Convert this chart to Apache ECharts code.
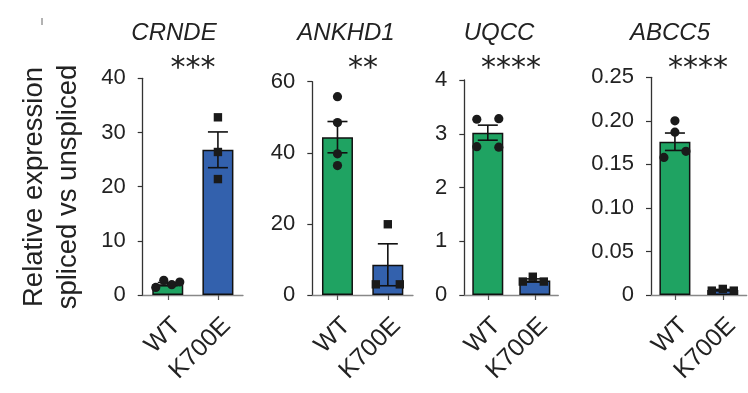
<!DOCTYPE html>
<html>
<head>
<meta charset="utf-8">
<script src="https://cdn.jsdelivr.net/npm/echarts@6/dist/echarts.min.js"></script>
<style>
html,body{margin:0;padding:0;background:#fff;}
#chart{width:748px;height:393px;}
</style>
</head>
<body>
<div id="chart"></div>
<script>
// ---------- data ----------
const categories = ['WT', 'K700E'];
const genes = ['CRNDE', 'ANKHD1', 'UQCC', 'ABCC5'];
const significance = ['***', '**', '****', '****'];
const yMax = [40, 60, 4, 0.25];
const yInterval = [10, 20, 1, 0.05];

const crndeMean = [2.0, 26.8];
const crndeSem = [0.3, 3.3];
const crndeWT = [1.4, 2.7, 1.9, 2.4];
const crndeK700E = [32.8, 26.4, 21.4];

const ankhd1Mean = [44.4, 8.5];
const ankhd1Sem = [4.4, 5.9];
const ankhd1WT = [55.8, 48.5, 39.7, 36.4];
const ankhd1K700E = [19.9, 3.0, 3.0];

const uqccMean = [3.02, 0.27];
const uqccSem = [0.14, 0.03];
const uqccWT = [3.27, 3.28, 2.76, 2.75];
const uqccK700E = [0.25, 0.34, 0.25];

const abcc5Mean = [0.176, 0.0057];
const abcc5Sem = [0.01, 0.0007];
const abcc5WT = [0.200, 0.187, 0.158, 0.165];
const abcc5K700E = [0.005, 0.007, 0.005];

// ---------- layout (pixels) ----------
const grids = [
  {left: 142.7, top: 78.3, width: 100.3, height: 216.7},
  {left: 312.3, top: 81.7, width: 100.7, height: 213.3},
  {left: 464.3, top: 80, width: 94, height: 215},
  {left: 651, top: 77.3, width: 95.7, height: 217.7}
];
// horizontal jitter of dots (px), per panel: [WT offsets, K700E offsets]
const jitter = [
  [[-12, -4, 4, 12], [0, 0, 0]],
  [[0, 0, 0, 0], [0, -12, 12]],
  [[-11, 11, -11, 11], [-12, -2, 9]],
  [[0, 0, -11, 11], [-11, 0, 11]]
];
const titlePos = [[174, 33], [346, 33], [499, 33], [670, 33]];
const starPos = [[193, 69], [363, 69], [511, 69], [698, 69]];

const means = [crndeMean, ankhd1Mean, uqccMean, abcc5Mean];
const sems = [crndeSem, ankhd1Sem, uqccSem, abcc5Sem];
const wtPts = [crndeWT, ankhd1WT, uqccWT, abcc5WT];
const kPts = [crndeK700E, ankhd1K700E, uqccK700E, abcc5K700E];

const GREEN = '#1fa362';
const BLUE = '#3361ad';
const FONT = "'Liberation Sans', Arial, sans-serif";
const TXT = '#222';

const chart = echarts.init(document.getElementById('chart'), null, {renderer: 'canvas'});

const option = {
  backgroundColor: '#fff',
  animation: false,
  grid: grids.map(g => Object.assign({containLabel: false}, g)),
  xAxis: grids.map((g, i) => ({
    type: 'category', gridIndex: i, data: categories, boundaryGap: true,
    axisLine: {show: true, lineStyle: {color: '#888', width: 1.3}},
    axisTick: {show: true, alignWithLabel: true, length: 5, lineStyle: {color: '#555', width: 1.2}},
    axisLabel: {rotate: 45, margin: 18, fontSize: 25, fontFamily: FONT, color: TXT, interval: 0,
      verticalAlign: 'top', padding: [0, 0, 0, 0]}
  })),
  yAxis: grids.map((g, i) => ({
    type: 'value', gridIndex: i, min: 0, max: yMax[i], interval: yInterval[i],
    axisLine: {show: true, lineStyle: {color: '#333', width: 1.3}},
    axisTick: {show: true, length: 5, lineStyle: {color: '#333', width: 1.2}},
    splitLine: {show: false},
    axisLabel: {
      margin: 17, fontSize: 22, fontFamily: FONT, color: TXT,
      formatter: v => (i === 3 ? (v === 0 ? '0' : v.toFixed(2)) : String(v))
    }
  })),
  series: [],
  graphic: []
};

for (let i = 0; i < 4; i++) {
  option.series.push({
    type: 'bar', xAxisIndex: i, yAxisIndex: i, barWidth: 31,
    data: means[i].map((v, k) => ({
      value: v,
      itemStyle: {color: k === 0 ? GREEN : BLUE, borderColor: '#111', borderWidth: 1.5}
    })),
    z: 2
  });
  // error bars
  option.series.push({
    type: 'custom', xAxisIndex: i, yAxisIndex: i, z: 3, clip: false,
    data: means[i].map((m, k) => [k, m - sems[i][k], m + sems[i][k]]),
    renderItem: (params, api) => {
      const lo = api.coord([api.value(0), api.value(1)]);
      const hi = api.coord([api.value(0), api.value(2)]);
      const hw = 10;
      const st = {stroke: '#111', lineWidth: 1.6};
      return {type: 'group', children: [
        {type: 'line', shape: {x1: lo[0], y1: lo[1], x2: hi[0], y2: hi[1]}, style: st},
        {type: 'line', shape: {x1: hi[0] - hw, y1: hi[1], x2: hi[0] + hw, y2: hi[1]}, style: st},
        {type: 'line', shape: {x1: lo[0] - hw, y1: lo[1], x2: lo[0] + hw, y2: lo[1]}, style: st}
      ]};
    }
  });
  // individual points
  const pts = [];
  wtPts[i].forEach((v, j) => pts.push([0, v, jitter[i][0][j]]));
  kPts[i].forEach((v, j) => pts.push([1, v, jitter[i][1][j]]));
  option.series.push({
    type: 'custom', xAxisIndex: i, yAxisIndex: i, z: 4, clip: false,
    data: pts,
    renderItem: (params, api) => {
      const c = api.coord([api.value(0), api.value(1)]);
      const x = c[0] + api.value(2), y = c[1];
      if (api.value(0) === 0) {
        return {type: 'circle', shape: {cx: x, cy: y, r: 4.6}, style: {fill: '#1a1a1a'}};
      }
      return {type: 'rect', shape: {x: x - 4.2, y: y - 4.2, width: 8.4, height: 8.4}, style: {fill: '#1a1a1a'}};
    }
  });
  option.graphic.push({
    type: 'text', x: titlePos[i][0], y: titlePos[i][1],
    style: {text: genes[i], align: 'center', verticalAlign: 'middle',
      fontSize: 24, fontStyle: 'italic', fontFamily: FONT, fill: TXT}
  });
  option.graphic.push({
    type: 'text', x: starPos[i][0], y: starPos[i][1],
    style: {text: significance[i], align: 'center', verticalAlign: 'middle',
      fontSize: 30, fontFamily: "'DejaVu Sans', sans-serif", fill: TXT}
  });
}

option.graphic.push({
  type: 'text', x: 51, y: 187, rotation: Math.PI / 2,
  style: {text: 'Relative expression\nspliced vs unspliced', align: 'center', verticalAlign: 'middle',
    fontSize: 27.5, lineHeight: 34, fontFamily: FONT, fill: TXT}
});
option.graphic.push({
  type: 'line', shape: {x1: 42, y1: 18, x2: 42, y2: 25}, style: {stroke: '#666', lineWidth: 1}
});

chart.setOption(option);
</script>
</body>
</html>
